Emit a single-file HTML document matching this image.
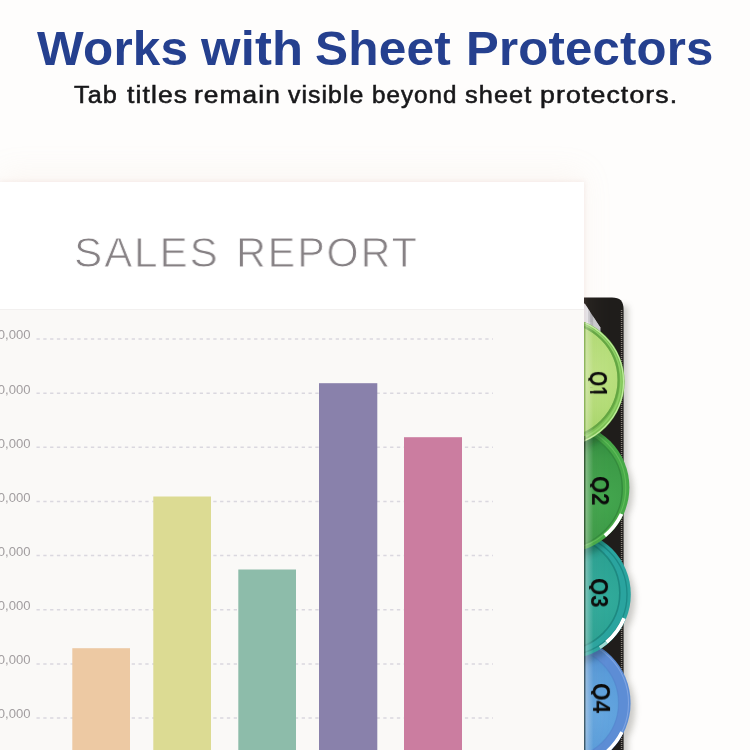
<!DOCTYPE html>
<html><head><meta charset="utf-8">
<style>
html,body{margin:0;padding:0;}
body{width:750px;height:750px;overflow:hidden;background:#fefdfc;position:relative;font-family:"Liberation Sans",sans-serif;}
span{position:absolute;white-space:nowrap;transform-origin:0 0;display:block;will-change:transform;}
.s1{top:17.6px;font-weight:bold;font-size:49px;line-height:60px;letter-spacing:0.2px;color:#25408f;}
.s2{top:79.5px;font-size:23.5px;line-height:30px;letter-spacing:1px;color:#171719;-webkit-text-stroke:0.55px #171719;}
.s3{top:41.6px;font-size:42.4px;line-height:60px;letter-spacing:1.9px;color:#868184;-webkit-text-stroke:0.9px #fff;}
#paper{position:absolute;left:0;top:181.5px;width:584px;height:570px;background:#fff;box-shadow:0 0 5px 1px rgba(200,150,140,0.13),0 -10px 28px rgba(225,195,170,0.10);}
#chart{position:absolute;left:0;top:127px;width:584px;height:443px;background:#faf9f7;border-top:1px solid #f2f0ef;}
.l{position:absolute;left:-20px;width:50.5px;font-size:13.1px;line-height:14px;color:#a29ea0;text-align:right;white-space:nowrap;will-change:transform;}
.q{clip-path:inset(0 0 3.3px 0);font-weight:bold;font-size:23.3px;line-height:26px;color:#0a0a0a;transform-origin:0 21.07px;}
</style></head><body>
<span class="s1" style="left:37.0px;transform:scaleX(1.009)">Works</span>
<span class="s1" style="left:200.5px;transform:scaleX(1.035)">with</span>
<span class="s1" style="left:315.3px;transform:scaleX(1.012)">Sheet</span>
<span class="s1" style="left:466.3px;transform:scaleX(1.002)">Protectors</span>
<span class="s2" style="left:73.8px;transform:scaleX(1.074)">Tab</span>
<span class="s2" style="left:126.9px;transform:scaleX(1.127)">titles</span>
<span class="s2" style="left:194.0px;transform:scaleX(1.118)">remain</span>
<span class="s2" style="left:288.2px;transform:scaleX(1.057)">visible</span>
<span class="s2" style="left:371.7px;transform:scaleX(1.028)">beyond</span>
<span class="s2" style="left:465.4px;transform:scaleX(1.078)">sheet</span>
<span class="s2" style="left:540.3px;transform:scaleX(1.134)">protectors.</span>
<svg id="tabs" width="750" height="750" style="position:absolute;left:0;top:0">
  <defs>
    <linearGradient id="shd" x1="0" x2="1" y1="0" y2="0">
      <stop offset="0" stop-color="#9a9a90" stop-opacity="0.40"/>
      <stop offset="0.35" stop-color="#a5a59c" stop-opacity="0.18"/>
      <stop offset="1" stop-color="#a5a59c" stop-opacity="0"/>
    </linearGradient>
    <filter id="bl" x="-20%" y="-5%" width="140%" height="110%"><feGaussianBlur stdDeviation="3.2"/></filter>
    <linearGradient id="gl" x1="0" x2="1" y1="0" y2="0"><stop offset="0" stop-color="#fff" stop-opacity="0.34"/><stop offset="1" stop-color="#fff" stop-opacity="0"/></linearGradient>
    <clipPath id="cp"><rect x="584" y="290" width="166" height="460"/></clipPath>
    <radialGradient id="g1" gradientUnits="userSpaceOnUse" cx="596" cy="372" r="60">
      <stop offset="0" stop-color="#bde183"/><stop offset="0.6" stop-color="#b3dc77"/><stop offset="1" stop-color="#a7d66a"/>
    </radialGradient>
    <radialGradient id="g2" gradientUnits="userSpaceOnUse" cx="604" cy="500" r="75">
      <stop offset="0" stop-color="#43a64e"/><stop offset="0.55" stop-color="#3c9a47"/><stop offset="1" stop-color="#2b833b"/>
    </radialGradient>
    <radialGradient id="g3" gradientUnits="userSpaceOnUse" cx="604" cy="600" r="75">
      <stop offset="0" stop-color="#31ab9b"/><stop offset="0.55" stop-color="#2ba293"/><stop offset="1" stop-color="#1d8a7c"/>
    </radialGradient>
    <radialGradient id="g4" gradientUnits="userSpaceOnUse" cx="600" cy="715" r="75">
      <stop offset="0" stop-color="#64a6e0"/><stop offset="0.55" stop-color="#5a9cd9"/><stop offset="1" stop-color="#4c87cd"/>
    </radialGradient>
    <clipPath id="c2"><circle cx="564.3" cy="487.3" r="65.1"/></clipPath>
    <clipPath id="c3"><circle cx="566.4" cy="594.4" r="64.4"/></clipPath>
    <clipPath id="c4"><circle cx="563.9" cy="703.1" r="66.7"/></clipPath>
    <clipPath id="c1"><circle cx="560" cy="381.8" r="64.6"/></clipPath>
  </defs>
  <g clip-path="url(#cp)">
  <!-- soft shadows -->
  <g filter="url(#bl)" opacity="0.36" fill="#6f6f66">
    <rect x="600" y="306" width="28" height="450"/>
    <circle cx="569" cy="492" r="64"/>
    <circle cx="571" cy="600" r="64"/>
    <circle cx="569" cy="709" r="66"/>
  </g>
  <!-- black strip -->
  <path d="M584 297.6 H612 C620 297.6 623.6 301 623.6 310 V750 H584 Z" fill="#1f1d1b"/>
  <path d="M621.6 310 V750" stroke="#857f78" stroke-width="1.5" stroke-dasharray="0.9 1.1" fill="none"/>
  <!-- white page wedge -->
  <clipPath id="wg"><path d="M584 303.6 L585 304 L600.3 327.6 L600.3 334 L584 334 Z"/></clipPath>
  <g clip-path="url(#wg)">
    <rect x="584" y="300" width="18" height="36" fill="#b0b0b7"/>
    <rect x="584" y="300" width="4.6" height="36" fill="#e6e6ec"/>
    <rect x="588.6" y="300" width="1.6" height="36" fill="#c9c9d0"/>
    <rect x="593.2" y="300" width="8" height="36" fill="#cacacf"/>
  </g>
  <!-- tab 4 -->
  <circle cx="563.9" cy="703.1" r="66.7" fill="#5d8dd5"/>
  <g clip-path="url(#c4)">
    <circle cx="563.9" cy="703.1" r="64.6" fill="none" stroke="#7fa4e2" stroke-width="1.1"/>
    <circle cx="563" cy="703" r="55.5" fill="url(#g4)"/>
    <circle cx="563" cy="703" r="55.5" fill="none" stroke="#4d7fc9" stroke-width="1.2" opacity="0.4"/>
    <path d="M622.0 732.1 A64.9 64.9 0 0 1 603.0 754.9" fill="none" stroke="#fff" stroke-width="3.6"/>
  </g>
  <g clip-path="url(#c4)"><circle cx="567" cy="599" r="66" fill="#0b2a3a" opacity="0.35" filter="url(#bl)"/></g>
  <!-- tab 3 -->
  <circle cx="566.4" cy="594.4" r="64.4" fill="#2aa49f"/>
  <g clip-path="url(#c3)">
    <circle cx="566.4" cy="594.4" r="60.6" fill="none" stroke="#1c8a86" stroke-width="1.3"/>
    <circle cx="563" cy="593" r="56.5" fill="url(#g3)"/>
    <circle cx="563" cy="593" r="56.8" fill="none" stroke="#1a8279" stroke-width="1.6" opacity="0.8"/>
    <path d="M624.1 618.3 A62.5 62.5 0 0 1 606.6 642.3" fill="none" stroke="#fff" stroke-width="3.8"/><path d="M606.8 642.5 A62.8 62.8 0 0 1 599.7 647.7" fill="none" stroke="#bfe8e2" stroke-width="3.2" opacity="0.8"/>
  </g>
  <g clip-path="url(#c3)"><circle cx="565" cy="492" r="66.5" fill="#06301f" opacity="0.35" filter="url(#bl)"/></g>
  <!-- tab 2 -->
  <circle cx="564.3" cy="487.3" r="65.1" fill="#47a948"/>
  <g clip-path="url(#c2)">
    <circle cx="564.3" cy="487.3" r="61.5" fill="none" stroke="#60bb59" stroke-width="1.1"/>
    <circle cx="563" cy="488.5" r="59" fill="url(#g2)"/>
    <circle cx="563" cy="488.5" r="59.3" fill="none" stroke="#2c7f38" stroke-width="1.4" opacity="0.7"/>
    <path d="M621.6 514.0 A63.2 63.2 0 0 1 604.9 535.7" fill="none" stroke="#fff" stroke-width="3.8"/>
  </g>
  <g clip-path="url(#c2)"><circle cx="561" cy="386.5" r="66" fill="#0a3312" opacity="0.35" filter="url(#bl)"/></g>
  <!-- tab 1 -->
  <circle cx="560" cy="381.8" r="64.6" fill="#7bc153"/>
  <g clip-path="url(#c1)">
    <circle cx="560" cy="381.8" r="63.5" fill="none" stroke="#bfeb9c" stroke-width="1.3"/>
    <circle cx="560.2" cy="381.2" r="60.8" fill="none" stroke="#8fd066" stroke-width="1.6"/>
    <circle cx="560.6" cy="380" r="57" fill="url(#g1)"/>
    <circle cx="560.6" cy="380" r="58" fill="none" stroke="#5f9f40" stroke-width="2.2" opacity="0.8"/>
  </g>
  <!-- protector edge band -->
  <rect x="584" y="436" width="1.5" height="314" fill="#12261a" opacity="0.6"/>
  <rect x="584" y="322" width="1.5" height="114" fill="#5d9a3c" opacity="0.55"/>
  <rect x="585.5" y="322" width="8" height="428" fill="url(#gl)"/>
  </g>
</svg>
<span class="q" style="left:589.6px;top:349.63px;transform:rotate(90deg) scaleX(0.84);clip-path:polygon(0 0,40px 0,40px 17.5px,26.5px 17.5px,26.5px 22.7px,23.9px 22.7px,23.9px 17.5px,19.2px 17.5px,19.2px 22.7px,0 22.7px)">Q1</span>
<span class="q" style="left:592.3px;top:454.63px;transform:rotate(90deg) scaleX(0.95)">Q2</span>
<span class="q" style="left:591.3px;top:556.83px;transform:rotate(90deg) scaleX(0.95)">Q3</span>
<span class="q" style="left:593px;top:661.83px;transform:rotate(90deg) scaleX(0.97)">Q4</span>
<div id="paper">
  <span class="s3" style="left:73.5px;transform:scaleX(0.996)">SALES</span>
  <span class="s3" style="left:235.6px;transform:scaleX(0.975)">REPORT</span>
  <div id="chart">
    <svg width="584" height="443" style="position:absolute;left:0;top:0">
      <g stroke="#dad8df" stroke-width="1.5" stroke-dasharray="3.3 3.5" fill="none">
        <path d="M36.5 29.0H493"/><path d="M36.5 83.2H493"/><path d="M36.5 137.3H493"/><path d="M36.5 191.5H493"/>
        <path d="M36.5 245.6H493"/><path d="M36.5 299.7H493"/><path d="M36.5 353.9H493"/><path d="M36.5 408.0H493"/>
      </g>
      <rect x="72.3" y="338.2" width="57.7" height="110" fill="#edc9a3"/>
      <rect x="153.3" y="186.5" width="57.7" height="260" fill="#dcdb93"/>
      <rect x="238.3" y="259.5" width="57.7" height="190" fill="#8dbcaa"/>
      <rect x="319" y="73.2" width="58.3" height="380" fill="#8981ab"/>
      <rect x="404" y="127.2" width="58" height="320" fill="#cb7da0"/>
    </svg>
    <div class="l" style="top:18.8px">0,000</div>
    <div class="l" style="top:73.0px">0,000</div>
    <div class="l" style="top:127.1px">0,000</div>
    <div class="l" style="top:181.3px">0,000</div>
    <div class="l" style="top:235.4px">0,000</div>
    <div class="l" style="top:289.5px">0,000</div>
    <div class="l" style="top:343.7px">0,000</div>
    <div class="l" style="top:397.8px">0,000</div>
  </div>
</div>
</body></html>
